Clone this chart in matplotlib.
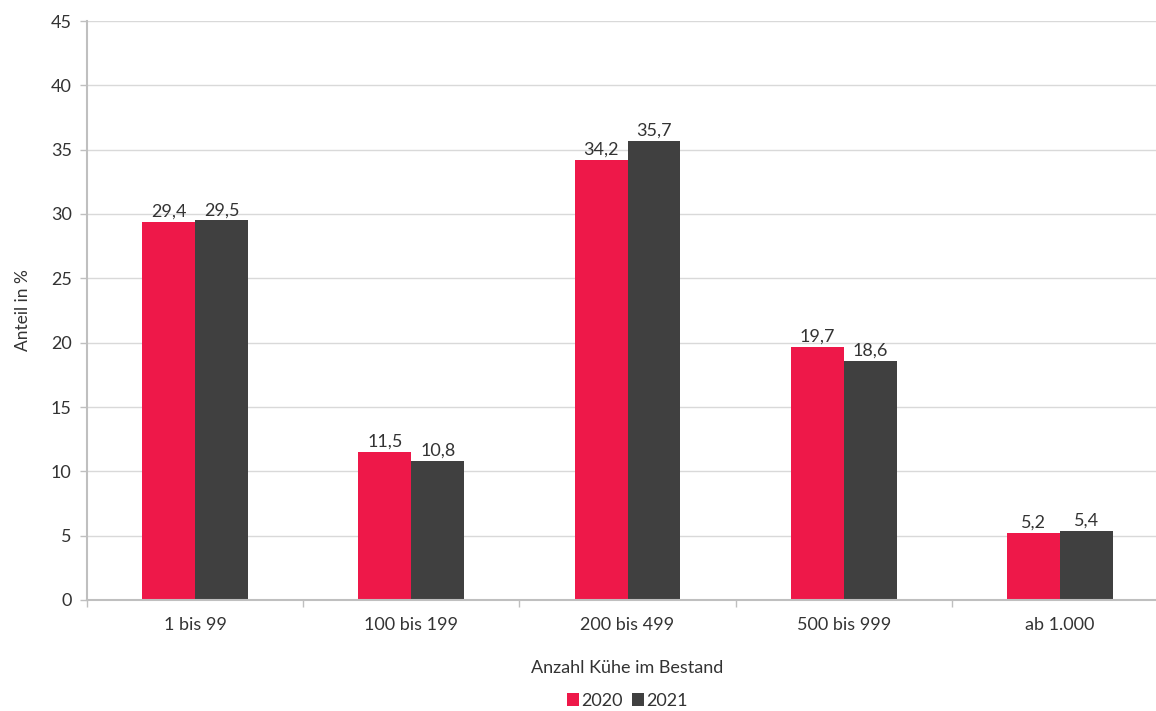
import numpy as np
from matplotlib import pyplot as plt
from matplotlib.ticker import FixedLocator

plt.rcParams['font.family'] = ['Lato', 'DejaVu Sans']

# Anteil der Betriebe nach Bestandsgröße
categories = ["1 bis 99", "100 bis 199", "200 bis 499", "500 bis 999", "ab 1.000"]
values_2020 = [29.4, 11.5, 34.2, 19.7, 5.2]
values_2021 = [29.5, 10.8, 35.7, 18.6, 5.4]
years = ["2020", "2021"]

RED = "#ee1849"
DARK = "#404040"
TEXT = "#333333"
AXIS = "#bfbfbf"
FS = 13

fig = plt.figure(figsize=(11.56, 7.11), dpi=100)
ax = fig.add_axes([87 / 1156, 111 / 711, 1081 / 1156, 579 / 711])

x = np.arange(len(categories))
width = 0.245
bars_a = ax.bar(x - width / 2, values_2020, width, color=RED, label=years[0])
bars_b = ax.bar(x + width / 2, values_2021, width, color=DARK, label=years[1])

for bars in (bars_a, bars_b):
    for b in bars:
        h = b.get_height()
        ax.annotate(f"{h:.1f}".replace(".", ","), (b.get_x() + b.get_width() / 2, h),
                    xytext=(0, 1.5), textcoords="offset points",
                    ha="center", va="bottom", fontsize=FS, color=TEXT)

ax.set_xlim(-0.5, len(categories) - 0.5)
ax.set_ylim(0, 45)
ax.set_yticks(np.arange(0, 46, 5))
ax.set_xticks(x)
ax.set_xticklabels(categories)
ax.xaxis.set_minor_locator(FixedLocator(np.arange(-0.5, len(categories), 1.0)))
ax.tick_params(axis="x", which="major", length=0, pad=12, labelsize=FS, labelcolor=TEXT)
ax.tick_params(axis="x", which="minor", length=5, color=AXIS, width=1)
ax.tick_params(axis="y", length=5, color=AXIS, width=1, pad=6, labelsize=FS, labelcolor=TEXT)

ax.grid(axis="y", color="#d9d9d9", linewidth=1)
ax.set_axisbelow(True)
for side in ("top", "right"):
    ax.spines[side].set_visible(False)
for side in ("left", "bottom"):
    ax.spines[side].set_color(AXIS)
    ax.spines[side].set_linewidth(1.5)

ax.set_ylabel("Anteil in %", fontsize=FS - 0.5, color=TEXT, labelpad=14)
fig.text(627 / 1156, 1 - 668 / 711, "Anzahl Kühe im Bestand", ha="center", va="center",
         fontsize=FS, color=TEXT)

fig.legend(loc="center", bbox_to_anchor=(627 / 1156, 1 - 701 / 711), ncol=2, frameon=False,
           fontsize=FS, handlelength=0.7, handleheight=0.7, handletextpad=0.1,
           columnspacing=0.5, labelcolor=TEXT)

fig.savefig("out.png", dpi=100)
